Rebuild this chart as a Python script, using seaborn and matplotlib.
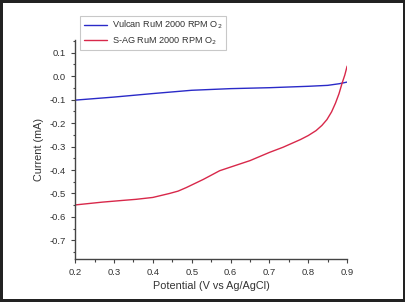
import pandas as pd
import numpy as np
import matplotlib.pyplot as plt
import seaborn as sns
from matplotlib.ticker import MultipleLocator

sns.set_theme(style="white")
plt.rcParams['font.family'] = ['Liberation Sans', 'DejaVu Sans']

# Vulcan curve
vulcan_x = [0.2, 0.3, 0.4, 0.5, 0.6, 0.7, 0.8, 0.85, 0.88, 0.9]
vulcan_y = [-0.102, -0.089, -0.074, -0.060, -0.053, -0.049, -0.043, -0.039, -0.032, -0.025]

# S-AG curve
sag_x = [0.2, 0.27, 0.32, 0.357, 0.40, 0.443, 0.465, 0.486, 0.53, 0.572, 0.61, 0.65, 0.7, 0.735,
         0.78, 0.80, 0.82, 0.835, 0.848, 0.86, 0.87, 0.879, 0.887, 0.894, 0.9]
sag_y = [-0.549, -0.537, -0.530, -0.525, -0.517, -0.500, -0.490, -0.475, -0.440, -0.403, -0.382,
         -0.360, -0.325, -0.303, -0.270, -0.253, -0.232, -0.210, -0.185, -0.152, -0.115, -0.075,
         -0.030, 0.005, 0.043]

labels = ['Vulcan RuM 2000 RPM O$_2$', 'S-AG RuM 2000 RPM O$_2$']

df = pd.concat([
    pd.DataFrame({'x': vulcan_x, 'y': vulcan_y, 'series': labels[0]}),
    pd.DataFrame({'x': sag_x, 'y': sag_y, 'series': labels[1]}),
])

fig = plt.figure(figsize=(4.06, 3.02), dpi=100)
fig.patch.set_edgecolor('#222222')
fig.patch.set_linewidth(3)
ax = fig.add_axes([0.185, 0.142, 0.67, 0.726])

sns.lineplot(data=df, x='x', y='y', hue='series', palette=['#2a2ac8', '#d8284a'],
             linewidth=1.0, ax=ax, sort=False, estimator=None)

ax.set_xlim(0.2, 0.9)
ax.set_ylim(-0.78, 0.155)
ax.xaxis.set_major_locator(MultipleLocator(0.1))
ax.xaxis.set_minor_locator(MultipleLocator(0.05))
ax.yaxis.set_minor_locator(MultipleLocator(0.05))
ax.set_yticks(np.arange(-0.7, 0.11, 0.1))
ax.yaxis.set_major_formatter(plt.FuncFormatter(lambda v, p: f"{v:.1f}" if abs(v) > 1e-9 else "0.0"))
ax.xaxis.set_major_formatter(plt.FuncFormatter(lambda v, p: f"{v:.1f}"))

for s in ['top', 'right']:
    ax.spines[s].set_visible(False)
for s in ['left', 'bottom']:
    ax.spines[s].set_color('#444444')
    ax.spines[s].set_linewidth(1.0)
ax.tick_params(which='major', direction='out', length=3, width=0.8, color='#444444',
               labelsize=6.8, labelcolor='#333333', left=True, bottom=True)
ax.tick_params(which='minor', direction='out', length=1.8, width=0.8, color='#444444',
               left=True, bottom=True)

ax.set_xlabel('Potential (V vs Ag/AgCl)', fontsize=7.8, color='#333333', labelpad=3)
ax.set_ylabel('Current (mA)', fontsize=7.8, color='#333333', labelpad=4)

leg = ax.legend(loc='upper left', bbox_to_anchor=(0.198, 0.948), bbox_transform=fig.transFigure,
                fontsize=6.6, frameon=True, fancybox=False, edgecolor='#bbbbbb',
                handlelength=2.6, borderpad=0.35, labelspacing=0.3, handletextpad=0.5,
                borderaxespad=0)
leg.get_frame().set_linewidth(0.8)
for t in leg.get_texts():
    t.set_color('#333333')

plt.savefig('out.png', dpi=100)
